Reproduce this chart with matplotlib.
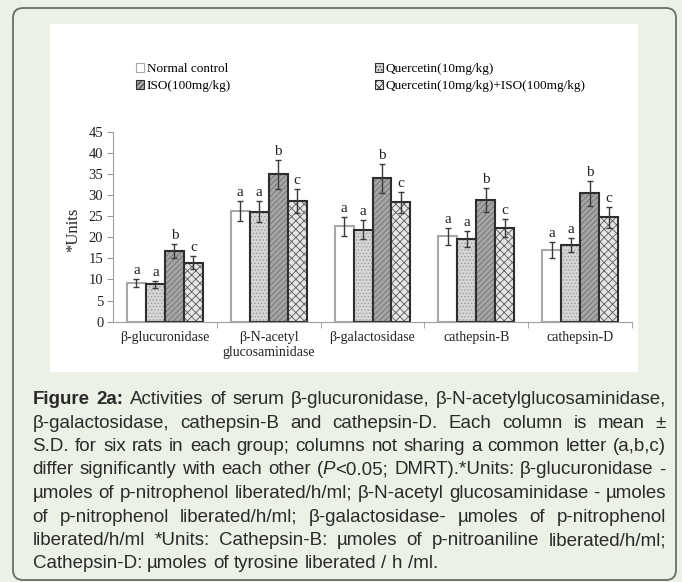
import numpy as np
import matplotlib
matplotlib.use('Agg')
import matplotlib.pyplot as plt
from matplotlib.patches import Patch, FancyBboxPatch, Rectangle
from matplotlib.transforms import IdentityTransform

# data
categories = ['β-glucuronidase', 'β-N-acetyl\nglucosaminidase', 'β-galactosidase',
              'cathepsin-B', 'cathepsin-D']
groups = ['Normal control', 'Quercetin(10mg/kg)', 'ISO(100mg/kg)',
          'Quercetin(10mg/kg)+ISO(100mg/kg)']
normal_mean = [9.2, 26.2, 22.6, 20.2, 17.0]
quercetin_mean = [8.9, 26.0, 21.8, 19.6, 18.2]
iso_mean = [16.7, 34.9, 34.0, 28.8, 30.4]
combo_mean = [14.0, 28.6, 28.3, 22.2, 24.7]
normal_sd = [0.9, 2.3, 2.2, 2.0, 1.8]
quercetin_sd = [0.8, 2.5, 2.3, 1.9, 1.6]
iso_sd = [1.7, 3.4, 3.4, 2.9, 3.0]
combo_sd = [1.5, 2.8, 2.5, 2.1, 2.5]
letters = ['a', 'a', 'b', 'c']
yticks = [0, 5, 10, 15, 20, 25, 30, 35, 40, 45]

caption = [
    "§Figure 2a:§ Activities of serum β-glucuronidase, β-N-acetylglucosaminidase,",
    "β-galactosidase, cathepsin-B and cathepsin-D. Each column is mean ±",
    "S.D. for six rats in each group; columns not sharing a common letter (a,b,c)",
    "differ significantly with each other (¦P¦<0.05; DMRT).*Units: β-glucuronidase -",
    "µmoles of p-nitrophenol liberated/h/ml; β-N-acetyl glucosaminidase - µmoles",
    "of p-nitrophenol liberated/h/ml; β-galactosidase- µmoles of p-nitrophenol",
    "liberated/h/ml *Units: Cathepsin-B: µmoles of p-nitroaniline liberated/h/ml;",
    "Cathepsin-D: µmoles of tyrosine liberated / h /ml.",
]

# styles
fills = ['white', '#d6d6d6', '#a5a5a5', '#e6e6e6']
hatches = [None, '.....', '//////', 'xxxx']
hatch_cols = ['white', '#9c9c9c', '#707070', '#5a5a5a']
edges = ['#a8a8a8', '#2e2e2e', '#2e2e2e', '#2e2e2e']

W, H = 682, 582
def fx(x):
    return x / W
def fy(y):
    return 1 - y / H

plt.rcParams['font.family'] = 'Liberation Serif'
plt.rcParams['hatch.linewidth'] = 0.6

fig = plt.figure(figsize=(6.82, 5.82), dpi=100, facecolor='#ecf1e6')

# outer rounded frame and white chart panel
fig.add_artist(FancyBboxPatch((13, H - 580), 663, 572, boxstyle='round,pad=0,rounding_size=10',
                              transform=IdentityTransform(), facecolor='none',
                              edgecolor='#6b6b6b', lw=1.3, zorder=-2))
fig.add_artist(Rectangle((50, H - 372), 588, 348, transform=IdentityTransform(),
                         facecolor='white', edgecolor='none', zorder=-1))

ax = fig.add_axes([fx(113), fy(321.7), (632 - 113) / W, (321.7 - 131.7) / H])
ax.set_facecolor('none')

means = [normal_mean, quercetin_mean, iso_mean, combo_mean]
sds = [normal_sd, quercetin_sd, iso_sd, combo_sd]
x = np.arange(len(categories))
w = 0.183
for j in range(4):
    xs = x + (j - 1.5) * w
    ax.bar(xs, means[j], w, color=fills[j], edgecolor=hatch_cols[j], hatch=hatches[j],
           linewidth=0, zorder=2)
    ax.bar(xs, means[j], w, fill=False, edgecolor=edges[j], linewidth=1.5, zorder=2)
    ax.errorbar(xs, means[j], yerr=sds[j], fmt='none', ecolor='#3a3a3a', elinewidth=1,
                capsize=2.5, capthick=1, zorder=3)
    for xi, m, s in zip(xs, means[j], sds[j]):
        ax.text(xi, m + s + 0.5, letters[j], ha='center', va='bottom', fontsize=11,
                color='#222222')

ax.set_xlim(-0.5, 4.5)
ax.set_ylim(0, 45)
ax.set_yticks(yticks)
ax.tick_params(axis='y', length=4, color='#999999', labelsize=10.5, labelcolor='#222222', pad=3)
ax.set_xticks(x, categories)
ax.tick_params(axis='x', length=0, labelsize=10, labelcolor='#222222', pad=7)
ax.set_xticks(np.arange(0.5, 5, 1), minor=True)
ax.tick_params(axis='x', which='minor', length=4, color='#999999')
for s in ['top', 'right']:
    ax.spines[s].set_visible(False)
for s in ['left', 'bottom']:
    ax.spines[s].set_color('#a0a0a0')

fig.text(fx(73), fy(230), '*Units', rotation=90, ha='center', va='center', fontsize=12,
         color='#222222')

handles = [Patch(facecolor=fills[j], edgecolor=edges[j], hatch=hatches[j], lw=0.8)
           for j in range(4)]
order = [0, 2, 1, 3]
fig.legend([handles[k] for k in order], [groups[k] for k in order], ncol=2,
           loc='upper left', bbox_to_anchor=(fx(136), fy(63)), frameon=False,
           fontsize=9.5, handlelength=0.6, handleheight=0.6, handletextpad=0.2,
           columnspacing=10.9, labelspacing=0.4, borderpad=0, borderaxespad=0)

# justified caption, word by word
renderer = fig.canvas.get_renderer()
cap_kw = dict(fontsize=13.5, family='Liberation Sans', color='#2a2a2a', va='baseline')

def measure(s):
    t = fig.text(0, 0, s, **cap_kw)
    wd = t.get_window_extent(renderer).width
    t.remove()
    return wd

space = measure('a a') - measure('aa')
left, right = 32.5, 666
bold = ital = False
for i, line in enumerate(caption):
    y = 404 + i * 23.5
    words = []
    for word in line.split(' '):
        segs = []
        buf = ''
        for ch in word:
            if ch in '§¦':
                if buf:
                    segs.append((buf, bold, ital))
                    buf = ''
                if ch == '§':
                    bold = not bold
                else:
                    ital = not ital
            else:
                buf += ch
        if buf:
            segs.append((buf, bold, ital))
        texts = []
        for s, b, it in segs:
            t = fig.text(0, fy(y), s, weight='bold' if b else 'normal',
                         style='italic' if it else 'normal', **cap_kw)
            texts.append((t, t.get_window_extent(renderer).width))
        words.append(texts)
    total = sum(wd for texts in words for _, wd in texts)
    last = i == len(caption) - 1
    gap = space if last else (right - left - total) / (len(words) - 1)
    xpos = left
    for texts in words:
        for t, wd in texts:
            t.set_x(fx(xpos))
            xpos += wd
        xpos += gap

fig.savefig('out.png', dpi=100, facecolor=fig.get_facecolor())
